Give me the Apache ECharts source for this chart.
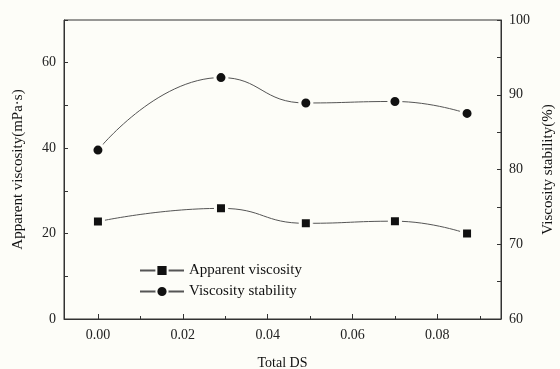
<!DOCTYPE html>
<html>
<head>
<meta charset="utf-8">
<script src="https://cdn.jsdelivr.net/npm/echarts@6/dist/echarts.min.js"></script>
<style>
  html, body { margin: 0; padding: 0; background: #fdfdf8; }
  #chart { width: 560px; height: 369px; }
</style>
</head>
<body>
<div id="chart"></div>
<script>
// values
const totalDS = [0, 0.029, 0.049, 0.070, 0.087];
const apparentViscosity = [22.8, 25.9, 22.4, 22.9, 20.0];
const viscosityStability = [82.6, 92.3, 88.9, 89.1, 87.5];
const xMajorTicks = [0, 0.02, 0.04, 0.06, 0.08];
const xMinorTicks = [0.01, 0.03, 0.05, 0.07, 0.09];
const leftLabels = [0, 20, 40, 60];
const rightLabels = [60, 70, 80, 90, 100];

const bg = '#fdfdf8';
const font = 'Liberation Serif';
const axisColor = '#333';

const pair = (xs, ys) => xs.map((x, i) => [x, ys[i]]);

const chart = echarts.init(document.getElementById('chart'));
chart.setOption({
  backgroundColor: bg,
  animation: false,
  textStyle: { fontFamily: font },
  grid: {
    left: 64, right: 59, top: 20, bottom: 50,
    outerBoundsMode: 'none',
    show: true,
    borderColor: axisColor,
    borderWidth: 1
  },
  legend: {
    orient: 'vertical',
    left: 134,
    top: 258,
    itemWidth: 44,
    itemHeight: 14,
    itemGap: 6,
    textStyle: { fontFamily: font, fontSize: 15, color: '#111' },
    data: ['Apparent viscosity', 'Viscosity stability']
  },
  xAxis: [
    {
      type: 'value',
      min: -0.008,
      max: 0.095,
      name: 'Total DS',
      nameLocation: 'middle',
      nameGap: 37,
      nameTextStyle: { fontFamily: font, fontSize: 14, color: '#111' },
      axisLine: { onZero: false, lineStyle: { color: axisColor } },
      axisTick: { inside: true, length: 5, customValues: xMajorTicks, lineStyle: { color: axisColor } },
      axisLabel: {
        customValues: xMajorTicks,
        margin: 9,
        fontFamily: font, fontSize: 14, color: '#222',
        formatter: v => v.toFixed(2)
      },
      splitLine: { show: false }
    },
    {
      type: 'value',
      position: 'bottom',
      min: -0.008,
      max: 0.095,
      axisLine: { show: false, onZero: false },
      axisTick: { inside: true, length: 3, customValues: xMinorTicks, lineStyle: { color: axisColor } },
      axisLabel: { show: false },
      splitLine: { show: false }
    }
  ],
  yAxis: [
    {
      type: 'value',
      min: 0,
      max: 70,
      interval: 10,
      name: 'Apparent viscosity(mPa·s)',
      nameLocation: 'middle',
      nameGap: 38,
      nameTextStyle: { fontFamily: font, fontSize: 15, color: '#111' },
      axisLine: { show: true, onZero: false, lineStyle: { color: axisColor } },
      axisTick: { inside: true, length: 4, lineStyle: { color: axisColor } },
      axisLabel: { customValues: leftLabels, margin: 8, fontFamily: font, fontSize: 14, color: '#222' },
      splitLine: { show: false }
    },
    {
      type: 'value',
      min: 60,
      max: 100,
      interval: 5,
      position: 'right',
      name: 'Viscosity stability(%)',
      nameLocation: 'middle',
      nameGap: 40,
      nameRotate: 90,
      nameTextStyle: { fontFamily: font, fontSize: 15, color: '#111' },
      axisLine: { show: true, onZero: false, lineStyle: { color: axisColor } },
      axisTick: { inside: true, length: 4, lineStyle: { color: axisColor } },
      axisLabel: { customValues: rightLabels, margin: 8, fontFamily: font, fontSize: 14, color: '#222' },
      splitLine: { show: false }
    }
  ],
  series: [
    {
      name: 'Apparent viscosity',
      type: 'line',
      xAxisIndex: 0,
      yAxisIndex: 0,
      smooth: 0.5,
      symbol: 'rect',
      symbolSize: 11,
      itemStyle: { color: '#111', borderColor: bg, borderWidth: 3 },
      lineStyle: { color: '#555', width: 1 },
      data: pair(totalDS, apparentViscosity)
    },
    {
      name: 'Viscosity stability',
      type: 'line',
      xAxisIndex: 0,
      yAxisIndex: 1,
      smooth: 0.5,
      symbol: 'circle',
      symbolSize: 12,
      itemStyle: { color: '#111', borderColor: bg, borderWidth: 3 },
      lineStyle: { color: '#555', width: 1 },
      data: pair(totalDS, viscosityStability)
    }
  ]
});
</script>
</body>
</html>
